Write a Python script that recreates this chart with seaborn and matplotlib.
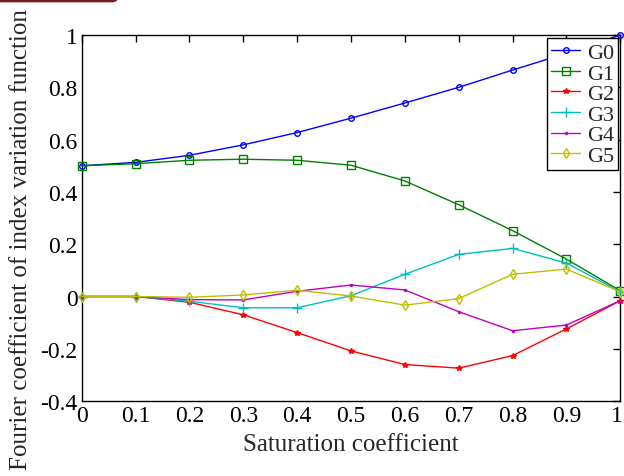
import numpy as np
import pandas as pd
import matplotlib
matplotlib.use("Agg")
import matplotlib.pyplot as plt
import matplotlib.transforms as mtransforms
import seaborn as sns
from matplotlib.patches import FancyBboxPatch

# =====================================
# Data
# =====================================

saturation = [0, 0.1, 0.2, 0.3, 0.4, 0.5, 0.6, 0.7, 0.8, 0.9, 1.0]

g0 = [0.500, 0.513, 0.540, 0.580, 0.627, 0.682, 0.740, 0.800, 0.866, 0.930, 1.000]
g1 = [0.500, 0.508, 0.521, 0.525, 0.521, 0.502, 0.442, 0.351, 0.252, 0.143, 0.022]
g2 = [0.000, 0.000, -0.022, -0.070, -0.138, -0.208, -0.260, -0.274, -0.226, -0.124, -0.016]
g3 = [0.000, 0.000, -0.018, -0.043, -0.043, 0.003, 0.085, 0.161, 0.184, 0.128, 0.018]
g4 = [0.000, 0.000, -0.012, -0.013, 0.020, 0.044, 0.025, -0.058, -0.131, -0.109, -0.016]
g5 = [0.000, 0.000, -0.003, 0.006, 0.024, 0.002, -0.033, -0.008, 0.085, 0.105, 0.018]

series_names = ["G0", "G1", "G2", "G3", "G4", "G5"]
series_values = [g0, g1, g2, g3, g4, g5]

x_tick_labels = ["0", "0.1", "0.2", "0.3", "0.4", "0.5", "0.6", "0.7", "0.8", "0.9", "1"]
y_tick_labels = ["-0.4", "-0.2", "0", "0.2", "0.4", "0.6", "0.8", "1"]

colors = ["#0000ff", "#008000", "#ff0000", "#00bfbf", "#bf00bf", "#bfbf00"]
markers = ["o", "s", "*", "+", ".", "d"]
marker_sizes = [4, 6, 4, 7, 3, 5]

df = pd.DataFrame({
    "x": saturation * len(series_names),
    "y": sum(series_values, []),
    "series": [n for n in series_names for _ in saturation],
})

# =====================================
# Plot
# =====================================

sns.set_style("white")
plt.rcParams["font.family"] = ["Liberation Serif", "DejaVu Serif"]

fig = plt.figure(figsize=(6.24, 4.77), dpi=100)
ax = fig.add_axes([0.131, 0.157, 0.863, 0.7675])

for name, color, marker, ms in zip(series_names, colors, markers, marker_sizes):
    sub = df[df["series"] == name]
    sns.lineplot(
        data=sub,
        x="x",
        y="y",
        ax=ax,
        color=color,
        linewidth=1,
        marker=marker,
        markersize=ms,
        markerfacecolor="none" if marker in ("o", "s", "d") else color,
        markeredgecolor=color,
        markeredgewidth=1,
        label=name,
        clip_on=False,
        zorder=3,
    )

ax.set_xlim(0, 1)
ax.set_ylim(-0.4, 1)
ax.set_xticks(saturation)
ax.set_yticks(np.arange(-0.4, 1.01, 0.2))
ax.set_xticklabels(x_tick_labels)
ax.set_yticklabels(y_tick_labels)

ax.tick_params(
    direction="in",
    length=5,
    width=1,
    top=True,
    right=True,
    labelsize=17,
    colors="black",
)
ax.tick_params(axis="x", pad=3)
ax.tick_params(axis="y", pad=3)

# last x tick label sits at the figure edge; nudge it in a little
last = ax.get_xticklabels()[-1]
last.set_transform(
    last.get_transform()
    + mtransforms.ScaledTranslation(-3 / 100, 0, fig.dpi_scale_trans)
)

for spine in ax.spines.values():
    spine.set_color("black")
    spine.set_linewidth(1)

ax.set_xlabel("Saturation coefficient", fontsize=18, labelpad=5)
ax.set_ylabel("")
fig.text(
    0.033, 0.497,
    "Fourier coefficient of index variation function",
    rotation=90,
    fontsize=18,
    ha="center",
    va="center",
)

leg = ax.legend(
    loc="upper right",
    bbox_to_anchor=(0.991, 0.918),
    bbox_transform=fig.transFigure,
    fontsize=16,
    frameon=True,
    fancybox=False,
    edgecolor="black",
    framealpha=1,
    handlelength=1.3,
    handletextpad=0.3,
    labelspacing=0.0,
    borderpad=0.2,
    borderaxespad=0,
)
leg.get_frame().set_linewidth(1)

# dark red tab cut off at the top-left corner
fig.patches.append(
    FancyBboxPatch(
        (-0.02, 0.993), 0.209, 0.05,
        boxstyle="round,pad=0,rounding_size=0.01",
        transform=fig.transFigure,
        facecolor="#7a1c1c",
        edgecolor="none",
    )
)

fig.savefig("out.png", dpi=100)
